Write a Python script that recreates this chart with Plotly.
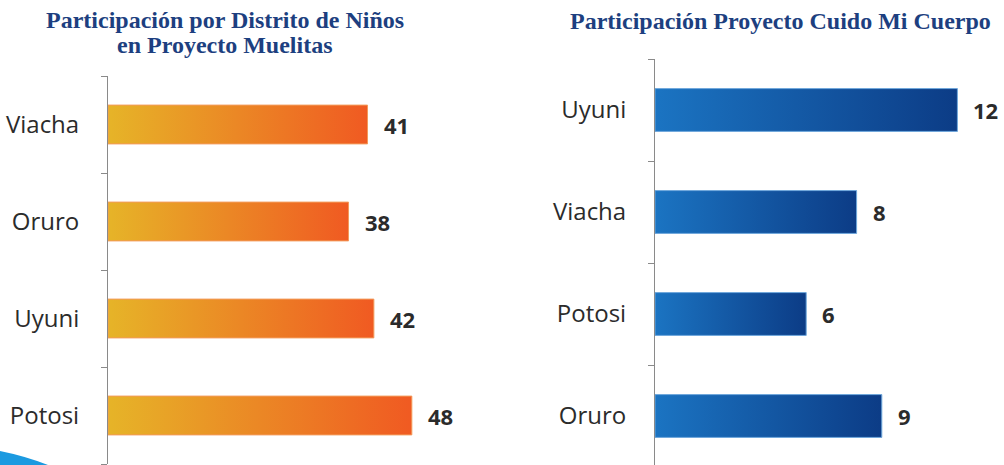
import plotly.graph_objects as go

# ---------------- data ----------------
left_title_lines = ["Participación por Distrito de Niños", "en Proyecto Muelitas"]
left_categories = ["Viacha", "Oruro", "Uyuni", "Potosi"]
left_values = [41, 38, 42, 48]

right_title = "Participación Proyecto Cuido Mi Cuerpo"
right_categories = ["Uyuni", "Viacha", "Potosi", "Oruro"]
right_values = [12, 8, 6, 9]

# ---------------- style ----------------
W, H = 1004, 465
LEFT_GRAD = ["#E6B428", "#F05A22"]
LEFT_EDGE = "#F39A5A"
RIGHT_GRAD = ["#1B74C2", "#0C3C86"]
RIGHT_EDGE = "#6FA8DC"
TITLE_COLOR = "#1D3F80"
LABEL_COLOR = "#2B2B2B"
AXIS_COLOR = "#8A8A8A"

fig = go.Figure()


def add_bars(cats, vals, xa, ya, grad, edge, half):
    for i, (c, v) in enumerate(zip(cats, vals)):
        fig.add_trace(go.Scatter(
            x=[0, v, v, 0, 0],
            y=[i - half, i - half, i + half, i + half, i - half],
            mode="lines",
            line=dict(color=edge, width=1),
            fill="toself",
            fillgradient=dict(type="horizontal",
                              colorscale=[[0, grad[0]], [1, grad[1]]]),
            xaxis=xa, yaxis=ya, showlegend=False, hoverinfo="skip",
        ))
        fig.add_annotation(
            x=v, y=i, xref=xa, yref=ya, text=f"<b>{v}</b>",
            showarrow=False, xanchor="left", xshift=14,
            font=dict(family="Open Sans", size=22, color=LABEL_COLOR),
        )


add_bars(left_categories, left_values, "x", "y", LEFT_GRAD, LEFT_EDGE, 0.2)
add_bars(right_categories, right_values, "x2", "y2", RIGHT_GRAD, RIGHT_EDGE, 0.21)


def yaxis_cfg(cats, domain, rng, anchor):
    return dict(
        domain=domain, range=rng, anchor=anchor, automargin=False,
        tickmode="array", tickvals=list(range(len(cats))), ticktext=cats,
        ticks="", ticklen=0,
        minor=dict(ticks="outside", ticklen=6, tickcolor=AXIS_COLOR,
                   tickwidth=1, tick0=-0.5, dtick=1, showgrid=False),
        showline=True, linecolor=AXIS_COLOR, linewidth=1,
        showgrid=False, zeroline=False,
        tickfont=dict(family="Open Sans", size=24, color=LABEL_COLOR),
        ticklabelstandoff=23,
    )


def xaxis_cfg(domain, rng, anchor):
    return dict(domain=domain, range=rng, visible=False, anchor=anchor,
                automargin=False, showgrid=False, zeroline=False)


left_px = 6.33  # px per unit
right_px = 25.2

fig.update_layout(
    width=W, height=H,
    margin=dict(l=0, r=0, t=0, b=0, pad=0, autoexpand=False),
    paper_bgcolor="white", plot_bgcolor="rgba(0,0,0,0)",
    xaxis=xaxis_cfg([108 / W, 500 / W], [0, (500 - 108) / left_px], "y"),
    yaxis=yaxis_cfg(left_categories, [1 / H, 1 - 76 / H], [3.5, -0.5], "x"),
    xaxis2=xaxis_cfg([655 / W, 1.0], [0, (W - 655) / right_px], "y2"),
    yaxis2=yaxis_cfg(right_categories, [0, 1 - 59 / H],
                     [-0.5 + (H - 59) / 102, -0.5], "x2"),
)

# titles
for line, ypx in zip(left_title_lines, [20, 45]):
    fig.add_annotation(
        x=225 / W, y=1 - ypx / H, xref="paper", yref="paper", text=f"<b>{line}</b>",
        showarrow=False, xanchor="center", yanchor="middle",
        font=dict(family="Liberation Serif", size=24, color=TITLE_COLOR),
    )
fig.add_annotation(
    x=780 / W, y=1 - 21 / H, xref="paper", yref="paper", text=f"<b>{right_title}</b>",
    showarrow=False, xanchor="center", yanchor="middle",
    font=dict(family="Liberation Serif", size=24, color=TITLE_COLOR),
)

# decorative blue swoosh in bottom-left corner
fig.add_shape(
    type="path", xref="paper", yref="paper",
    path=f"M 0,{1 - 451 / H} Q {25 / W},{1 - 456 / H} {48 / W},{0} L 0,0 Z",
    fillcolor="#1B9AE0", line=dict(width=0), layer="above",
)

fig.write_html(
    "out.html",
    config={"displayModeBar": False},
    post_script="document.body.style.margin='0px';document.body.style.overflow='hidden';",
)
